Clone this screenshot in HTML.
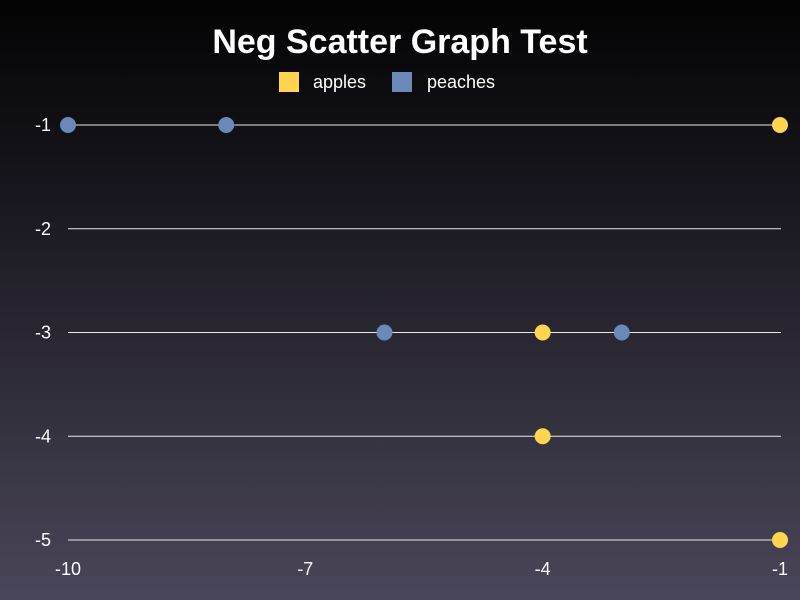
<!DOCTYPE html>
<html><head><meta charset="utf-8"><style>
html,body{margin:0;padding:0;width:800px;height:600px;overflow:hidden;}
body{background:linear-gradient(to bottom,#030303 0%,#1a1820 35%,#4a4659 100%);font-family:"Liberation Sans",sans-serif;}
svg{display:block;}
</style></head><body>
<svg id="chart" width="800" height="600" xmlns="http://www.w3.org/2000/svg">
<text x="400" y="53" text-anchor="middle" fill="#fff" font-size="34" font-weight="bold" font-family="Liberation Sans, sans-serif">Neg Scatter Graph Test</text>
<g>
<rect x="279" y="72" width="20" height="20" fill="#ffd54f"/>
<text x="313" y="88" fill="#fff" font-size="18">apples</text>
<rect x="392" y="72" width="20" height="20" fill="#6a88b8"/>
<text x="427" y="88" fill="#fff" font-size="18">peaches</text>
</g>
<g id="grid"></g><g id="ticks"></g><g id="marks"></g>
</svg>
<script>
const xTicks=[-10,-7,-4,-1];
const yTicks=[-1,-2,-3,-4,-5];
const applesX=[-1,-4,-4,-1];
const applesY=[-1,-3,-4,-5];
const peachesX=[-10,-8,-6,-3];
const peachesY=[-1,-1,-3,-3];
const NS="http://www.w3.org/2000/svg";
function xs(v){return 68+(v+10)/9*712;}
function ys(v){return 125+(-1-v)/4*415;}
const grid=document.getElementById('grid'),ticks=document.getElementById('ticks'),marks=document.getElementById('marks');
function mk(tag,attrs,parent){const e=document.createElementNS(NS,tag);for(const k in attrs)e.setAttribute(k,attrs[k]);parent.appendChild(e);return e;}
yTicks.forEach(v=>{
 const l=mk('line',{x1:68,x2:781,y1:ys(v),y2:ys(v),stroke:'#e8e8e8','stroke-width':1},grid);
 
 
 const t=mk('text',{x:51,y:ys(v)+6,'text-anchor':'end',fill:'#fff','font-size':18},ticks);
 t.textContent=v;
 
 
});
xTicks.forEach(v=>{
 const t=mk('text',{x:xs(v),y:575,'text-anchor':'middle',fill:'#fff','font-size':18},ticks);
 t.textContent=v;
 
 
});
peachesX.forEach((v,i)=>{
 const c=mk('circle',{cx:xs(v),cy:ys(peachesY[i]),r:8,fill:'#6a88b8'},marks);
 
 
});
applesX.forEach((v,i)=>{
 const c=mk('circle',{cx:xs(v),cy:ys(applesY[i]),r:8,fill:'#ffd54f'},marks);
 
 
});
</script>
</body></html>
